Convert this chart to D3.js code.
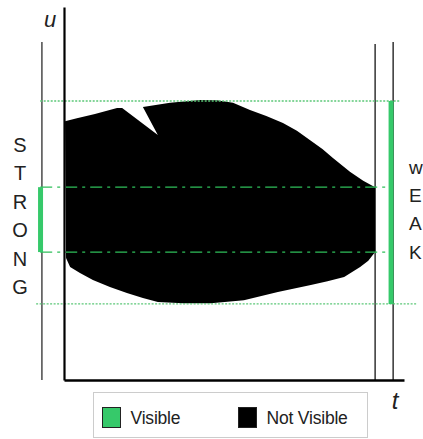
<!DOCTYPE html>
<html><head><meta charset="utf-8">
<script src="https://cdn.jsdelivr.net/npm/d3@7"></script>
<style>body{margin:0;background:#fff}svg{display:block}</style>
</head><body>
<script>
// ---- data ----
const topBoundary = [[0.3,69.4],[3.8,70.2],[9.1,71.3],[15.6,72.9],[17.1,72.9],[27.6,65.7],[23.2,73.2],[31.2,74.3],[40,75.1],[45,75.0],[49.7,74.3],[54.7,72.4],[59.5,70.8],[64.4,68.9],[68.5,66.8],[72.4,64.3],[76,61.9],[79.1,59.5],[84.1,55.8],[88,53.4],[91.5,51.7]];
const bottomBoundary = [[91.5,34.3],[89.5,32.0],[87.1,30.3],[82.4,27.6],[77.5,26.5],[72.6,25.5],[62.9,23.6],[52.9,21.4],[43.2,20.6],[35,20.6],[27.6,20.9],[23.2,22.0],[18.5,23.3],[13.5,24.9],[8.5,26.8],[4.7,28.7],[1.8,30.3],[0.6,32.7]];
const levelsDotted = [74.8, 20.4];
const levelsDashDot = [51.7, 34.3];
const strongBand = [34.3, 51.7];
const weakBand = [20.4, 74.8];
const tMarkers = [91.5, 96.8];
const strongLetters = ["S","T","R","O","N","G"];
const weakLetters = ["w","E","A","K"];
const legendItems = [{label:"Visible", color:"#36c96a"},{label:"Not Visible", color:"#000"}];

const W = 423, H = 439;
const svg = d3.select("body").append("svg").attr("width",W).attr("height",H);
const x = d3.scaleLinear().domain([0,100]).range([64,404]);
const y = d3.scaleLinear().domain([0,100]).range([380,7]);
const green = "#36c96a";

// black region
const shape = topBoundary.concat(bottomBoundary);
svg.append("path")
  .attr("d", d3.line().x(d=>x(d[0])).y(d=>y(d[1]))(shape) + "Z")
  .attr("fill","#000");

// left gray line
svg.append("line").attr("x1",x(-6.5)).attr("x2",x(-6.5)).attr("y1",y(90.6)).attr("y2",y(0))
  .attr("stroke","#555").attr("stroke-width",1.6);
// right black lines
svg.selectAll("line.tm").data(tMarkers).join("line").attr("class","tm")
  .attr("x1",d=>x(d)).attr("x2",d=>x(d))
  .attr("y1",(d,i)=> i===0 ? y(90.1) : y(90.6)).attr("y2",y(0))
  .attr("stroke","#000").attr("stroke-width",1.2);

// dotted lines
svg.append("line").attr("x1",x(-7)).attr("x2",x(99)).attr("y1",y(levelsDotted[0])).attr("y2",y(levelsDotted[0]))
  .attr("stroke","#5cc878").attr("stroke-width",1.3).attr("stroke-dasharray","2,1.5");
svg.append("line").attr("x1",x(-8.2)).attr("x2",x(103.8)).attr("y1",y(levelsDotted[1])).attr("y2",y(levelsDotted[1]))
  .attr("stroke","#5cc878").attr("stroke-width",1.3).attr("stroke-dasharray","2,1.5");
// dash-dot lines
svg.selectAll("line.dd").data(levelsDashDot).join("line").attr("class","dd")
  .attr("x1",x(-7)).attr("x2",x(94.7)).attr("y1",d=>y(d)).attr("y2",d=>y(d))
  .attr("stroke","#2fbf5a").attr("stroke-width",1.3).attr("stroke-dasharray","12,5,3,5");

// green bands
svg.append("line").attr("x1",x(-6.9)).attr("x2",x(-6.9)).attr("y1",y(strongBand[1])).attr("y2",y(strongBand[0]))
  .attr("stroke",green).attr("stroke-width",5);
svg.append("line").attr("x1",x(96.2)).attr("x2",x(96.2)).attr("y1",y(weakBand[1])).attr("y2",y(weakBand[0]))
  .attr("stroke",green).attr("stroke-width",5);

// axes
svg.append("g").attr("transform",`translate(${x(0)},0)`)
  .call(d3.axisLeft(y).tickValues([]).tickSizeOuter(0))
  .select(".domain").attr("stroke","#000").attr("stroke-width",2.2);
svg.append("g").attr("transform",`translate(0,${y(0)})`)
  .call(d3.axisBottom(x).tickValues([]).tickSizeOuter(0))
  .select(".domain").attr("stroke","#000").attr("stroke-width",2.5);

// axis labels
svg.append("text").attr("x",50).attr("y",27).attr("text-anchor","middle")
  .attr("font-family","Liberation Sans, Arial, sans-serif").attr("font-style","italic")
  .attr("font-size",22).attr("fill","#222").text("u");
svg.append("text").attr("x",395).attr("y",409).attr("text-anchor","middle")
  .attr("font-family","Liberation Sans, Arial, sans-serif").attr("font-style","italic")
  .attr("font-size",24).attr("fill","#222").text("t");

// STRONG / WEAK
svg.selectAll("text.s").data(strongLetters).join("text").attr("class","s")
  .attr("x",20).attr("y",(d,i)=>152+i*28.4).attr("text-anchor","middle")
  .attr("font-family","Liberation Sans, Arial, sans-serif").attr("font-size",20).attr("fill","#222").text(d=>d);
svg.selectAll("text.w").data(weakLetters).join("text").attr("class","w")
  .attr("x",409).attr("y",(d,i)=>173.5+i*28.4)
  .attr("font-family","Liberation Sans, Arial, sans-serif").attr("font-size",19).attr("fill","#222").text(d=>d);

// legend
const lg = svg.append("g");
lg.append("rect").attr("x",93.5).attr("y",392.5).attr("width",274).attr("height",45)
  .attr("fill","#fff").attr("stroke","#ccc").attr("stroke-width",1);
const items = lg.selectAll("g.it").data(legendItems).join("g").attr("class","it")
  .attr("transform",(d,i)=>`translate(${i===0?102.5:238.5},407.5)`);
items.append("rect").attr("width",18).attr("height",20).attr("fill",d=>d.color).attr("stroke","#222").attr("stroke-width",1);
items.append("text").attr("x",28).attr("y",16.5)
  .attr("font-family","Liberation Sans, Arial, sans-serif").attr("font-size",17.5).attr("fill","#222")
  .attr("letter-spacing",-0.2).text(d=>d.label);
</script>
</body></html>
